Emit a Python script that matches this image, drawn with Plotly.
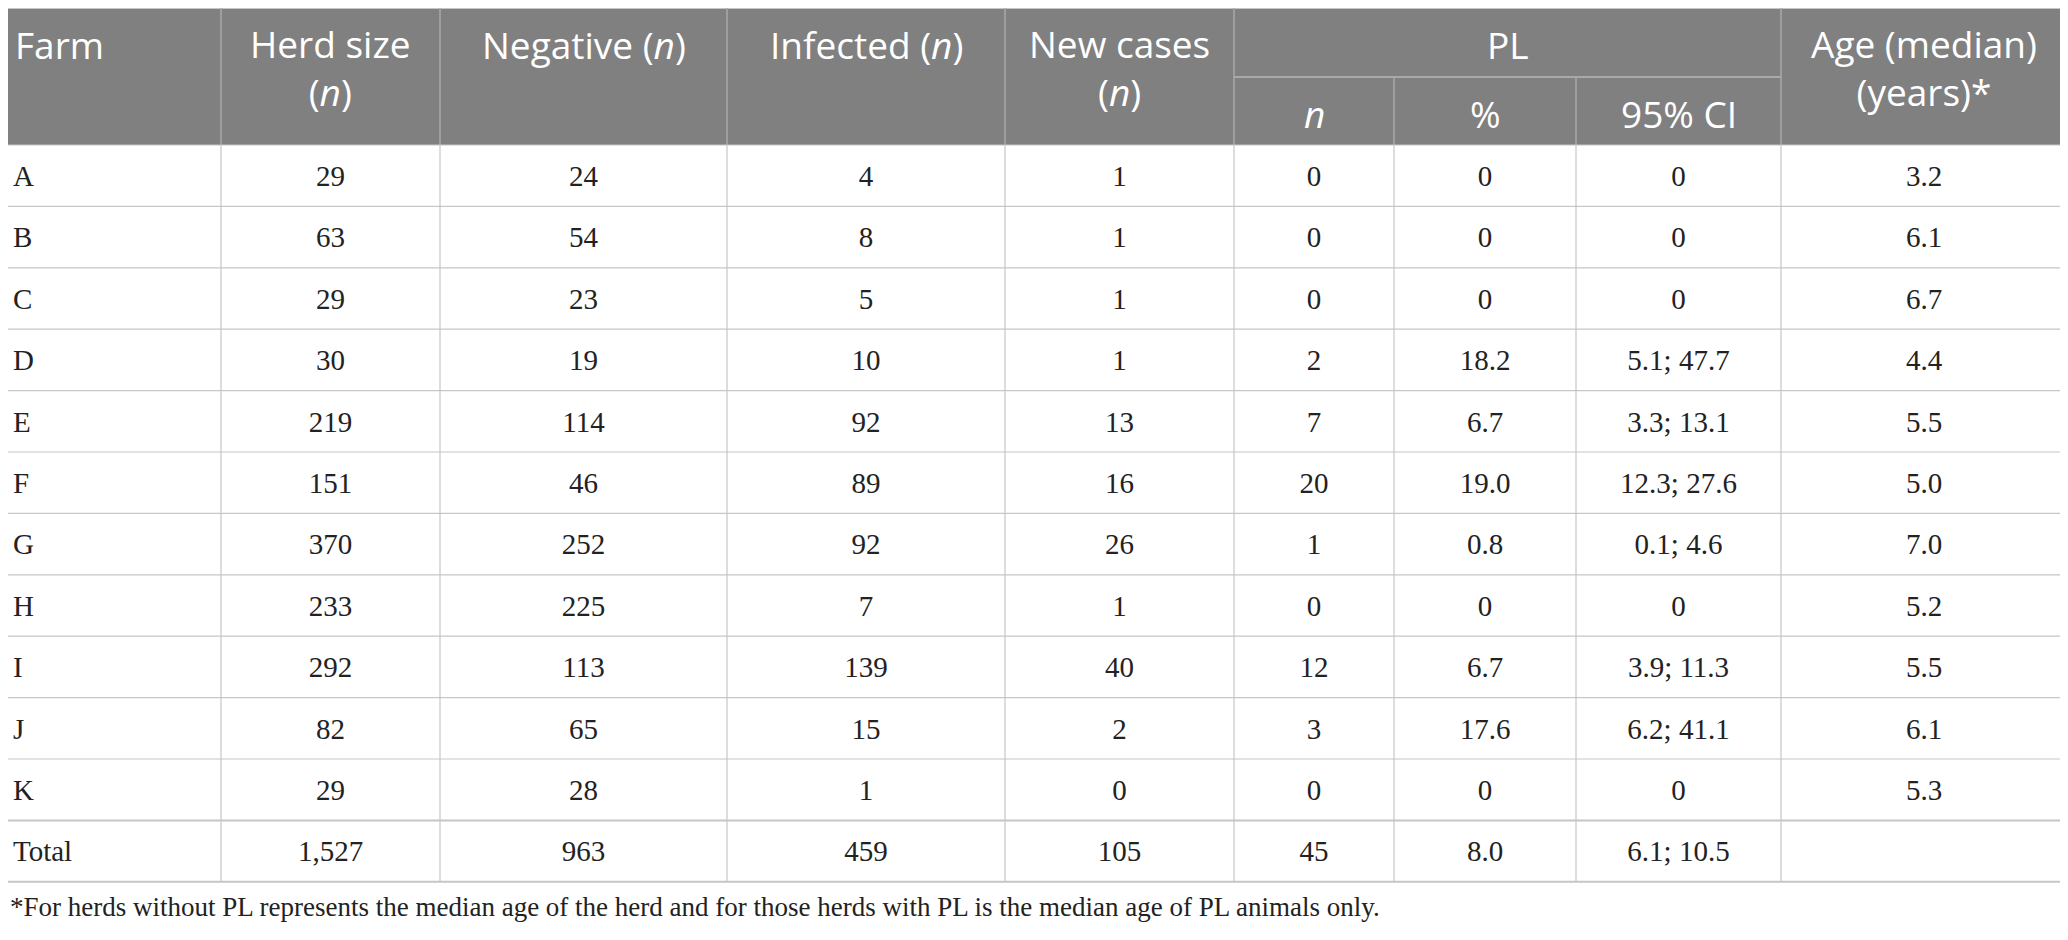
import plotly.graph_objects as go

# Table data
farms = ["A", "B", "C", "D", "E", "F", "G", "H", "I", "J", "K", "Total"]
herd_size = [29, 63, 29, 30, 219, 151, 370, 233, 292, 82, 29, 1527]
negative = [24, 54, 23, 19, 114, 46, 252, 225, 113, 65, 28, 963]
infected = [4, 8, 5, 10, 92, 89, 92, 7, 139, 15, 1, 459]
new_cases = [1, 1, 1, 1, 13, 16, 26, 1, 40, 2, 0, 105]
pl_n = [0, 0, 0, 2, 7, 20, 1, 0, 12, 3, 0, 45]
pl_pct = ["0", "0", "0", "18.2", "6.7", "19.0", "0.8", "0", "6.7", "17.6", "0", "8.0"]
pl_ci = ["0", "0", "0", "5.1; 47.7", "3.3; 13.1", "12.3; 27.6", "0.1; 4.6", "0",
         "3.9; 11.3", "6.2; 41.1", "0", "6.1; 10.5"]
age_median = ["3.2", "6.1", "6.7", "4.4", "5.5", "5.0", "7.0", "5.2", "5.5", "6.1", "5.3", ""]

footnote = ("*For herds without PL represents the median age of the herd and for those "
            "herds with PL is the median age of PL animals only.")

# Layout (pixel units); page body has an 8px margin, so shift ranges by 8
W, H = 2068, 940
OFF = 8
col_edges = [0, 221, 440, 727, 1005, 1234, 1394, 1576, 1781, 2067]
head_top, head_mid, head_bot = 8, 77, 145
row_h = 61.4

HEAD_FILL = "#808080"
HEAD_LINE = "#a9a9a9"
BODY_LINE = "#c6c6c6"
SANS = "Open Sans"
SERIF = "Liberation Serif"

fig = go.Figure()

shapes = []
# header background
shapes.append(dict(type="rect", x0=col_edges[0], x1=col_edges[-1], y0=head_top, y1=head_bot,
                   fillcolor=HEAD_FILL, line=dict(width=0), layer="below"))
# header top border
shapes.append(dict(type="line", x0=col_edges[0], x1=col_edges[-1], y0=head_top, y1=head_top,
                   line=dict(color=BODY_LINE, width=2)))
# header vertical separators
for x in col_edges[1:-1]:
    y0 = head_mid if x in (col_edges[6], col_edges[7]) else head_top
    shapes.append(dict(type="line", x0=x, x1=x, y0=y0, y1=head_bot,
                       line=dict(color=HEAD_LINE, width=1.5)))
# PL sub-header line
shapes.append(dict(type="line", x0=col_edges[5], x1=col_edges[8], y0=head_mid, y1=head_mid,
                   line=dict(color=HEAD_LINE, width=2)))

n_rows = len(farms)
row_edges = [head_bot + i * row_h for i in range(n_rows + 1)]
# body horizontal lines
for i, y in enumerate(row_edges):
    w = 2 if i in (n_rows - 1, n_rows) else 1.2
    shapes.append(dict(type="line", x0=col_edges[0], x1=col_edges[-1], y0=y, y1=y,
                       line=dict(color=BODY_LINE, width=w)))
# body vertical lines
for x in col_edges:
    shapes.append(dict(type="line", x0=x, x1=x, y0=head_bot, y1=row_edges[-1],
                       line=dict(color=BODY_LINE, width=1.2)))

# text sits slightly below the geometric centre, like the original
row_centers = [(row_edges[i] + row_edges[i + 1]) / 2 + 3 for i in range(n_rows)]
columns = [
    [f"{v:,}" for v in herd_size],
    [f"{v:,}" for v in negative],
    [f"{v:,}" for v in infected],
    [f"{v:,}" for v in new_cases],
    [f"{v:,}" for v in pl_n],
    pl_pct,
    pl_ci,
    age_median,
]

body_font = dict(family=SERIF, size=29, color="#222222")

# Farm column (left aligned)
fig.add_trace(go.Scatter(x=[col_edges[0] + 13] * n_rows, y=row_centers, mode="text",
                         text=farms, textposition="middle right", textfont=body_font,
                         hoverinfo="skip", showlegend=False))
for j, vals in enumerate(columns):
    cx = (col_edges[j + 1] + col_edges[j + 2]) / 2
    fig.add_trace(go.Scatter(x=[cx] * n_rows, y=row_centers, mode="text", text=vals,
                             textposition="middle center", textfont=body_font,
                             hoverinfo="skip", showlegend=False))

# Header text
head_font = dict(family=SANS, size=37, color="white")
line1_y = 44
top_headers = [
    (0, "Farm", "left"),
    (1, "Herd size<br>(<i>n</i>)", "center"),
    (2, "Negative (<i>n</i>)", "center"),
    (3, "Infected (<i>n</i>)", "center"),
    (4, "New cases<br>(<i>n</i>)", "center"),
    (8, "Age (median)<br>(years)*", "center"),
]
annotations = []
for j, txt, align in top_headers:
    if align == "left":
        x, xa = col_edges[j] + 13, "left"
    else:
        x, xa = (col_edges[j] + col_edges[j + 1]) / 2, "center"
    two_lines = "<br>" in txt
    annotations.append(dict(x=x, y=line1_y + 23 if two_lines else line1_y, text=txt,
                            xanchor=xa, yanchor="middle", align="center",
                            showarrow=False, font=head_font))
annotations.append(dict(x=(col_edges[5] + col_edges[8]) / 2, y=line1_y,
                        text="PL", xanchor="center", yanchor="middle", showarrow=False,
                        font=head_font))
for j, txt in zip([5, 6, 7], ["<i>n</i>", "%", "95% CI"]):
    annotations.append(dict(x=(col_edges[j] + col_edges[j + 1]) / 2, y=113,
                            text=txt, xanchor="center", yanchor="middle", showarrow=False,
                            font=head_font))
# footnote (paper x so it is not hidden left of the axis range)
annotations.append(dict(xref="paper", x=0, y=907, text=footnote,
                        xanchor="left", yanchor="middle", showarrow=False,
                        font=dict(family=SERIF, size=27, color="#222222")))

fig.update_layout(
    width=W, height=H,
    margin=dict(l=0, r=0, t=0, b=0),
    plot_bgcolor="white", paper_bgcolor="white",
    xaxis=dict(range=[OFF, W + OFF], visible=False, fixedrange=True),
    yaxis=dict(range=[H + OFF, OFF], visible=False, fixedrange=True),
    shapes=shapes,
    annotations=annotations,
)

fig.write_html("out.html")
